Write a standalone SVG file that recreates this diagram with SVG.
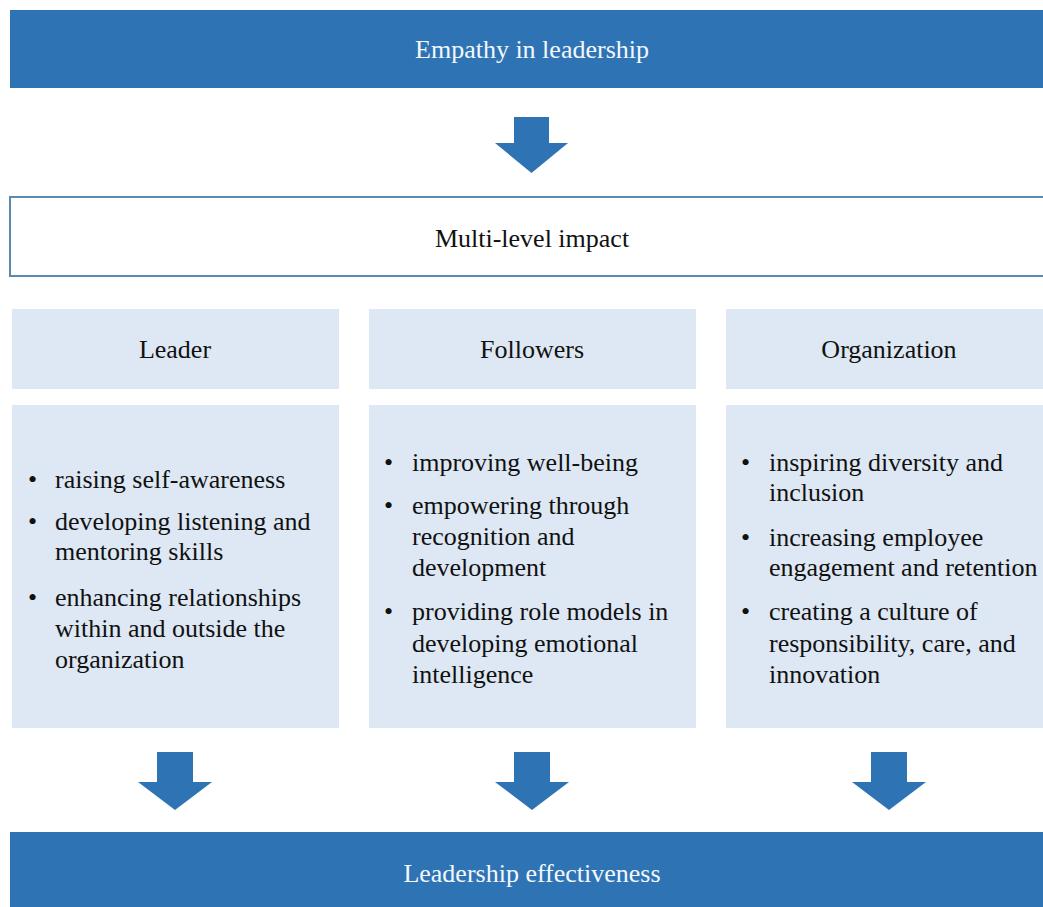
<svg xmlns="http://www.w3.org/2000/svg" width="1043" height="907" viewBox="0 0 1043 907">
<style>
.bar{fill:#2e74b5}
.light{fill:#dde8f4}
.arrow{fill:#2e74b5}
text{font-family:"Liberation Serif","Times New Roman",serif;font-size:26px;fill:#111}
.w{fill:#f4f7fb}
.c{text-anchor:middle}
</style>
<rect width="1043" height="907" fill="#ffffff"/>
<g id="top">
<rect class="bar" x="10" y="10" width="1033" height="78"/>
<text class="w c" x="532" y="58">Empathy in leadership</text>
</g>
<g id="multi">
<rect x="10" y="197" width="1040" height="79" fill="#fff" stroke="#5a8aad" stroke-width="2"/>
<text class="c" x="532" y="247">Multi-level impact</text>
</g>
<g id="leader-head">
<rect class="light" x="12" y="309" width="327" height="80"/>
<text class="c" x="175" y="358">Leader</text>
</g>
<g id="followers-head">
<rect class="light" x="369" y="309" width="327" height="80"/>
<text class="c" x="532" y="358">Followers</text>
</g>
<g id="org-head">
<rect class="light" x="726" y="309" width="317" height="80"/>
<text class="c" x="889" y="358">Organization</text>
</g>
<g id="leader-body">
<rect class="light" x="12" y="405" width="327" height="323"/>
<text x="28" y="488">•</text><text x="55" y="488">raising self-awareness</text>
<text x="28" y="530">•</text><text x="55" y="530">developing listening and</text>
<text x="55" y="560">mentoring skills</text>
<text x="28" y="606">•</text><text x="55" y="606">enhancing relationships</text>
<text x="55" y="637">within and outside the</text>
<text x="55" y="668">organization</text>
</g>
<g id="followers-body">
<rect class="light" x="369" y="405" width="327" height="323"/>
<text x="384" y="471">•</text><text x="412" y="471">improving well-being</text>
<text x="384" y="514">•</text><text x="412" y="514">empowering through</text>
<text x="412" y="545">recognition and</text>
<text x="412" y="576">development</text>
<text x="384" y="620">•</text><text x="412" y="620">providing role models in</text>
<text x="412" y="652">developing emotional</text>
<text x="412" y="683">intelligence</text>
</g>
<g id="org-body">
<rect class="light" x="726" y="405" width="317" height="323"/>
<text x="741" y="471">•</text><text x="769" y="471">inspiring diversity and</text>
<text x="769" y="501">inclusion</text>
<text x="741" y="546">•</text><text x="769" y="546">increasing employee</text>
<text x="769" y="576">engagement and retention</text>
<text x="741" y="620">•</text><text x="769" y="620">creating a culture of</text>
<text x="769" y="652">responsibility, care, and</text>
<text x="769" y="683">innovation</text>
</g>
<g id="bottom">
<rect class="bar" x="10" y="832" width="1033" height="75"/>
<text class="w c" x="532" y="882">Leadership effectiveness</text>
</g>
<g id="connectors">
<polygon class="arrow" points="514,117 549,117 549,143 568,143 531.5,173 495,143 514,143"/>
<polygon class="arrow" points="157,752 193,752 193,782 212,782 175,810 138,782 157,782"/>
<polygon class="arrow" points="514,752 550,752 550,782 569,782 532,810 495,782 514,782"/>
<polygon class="arrow" points="871,752 907,752 907,782 926,782 889,810 852,782 871,782"/>
</g>
</svg>
